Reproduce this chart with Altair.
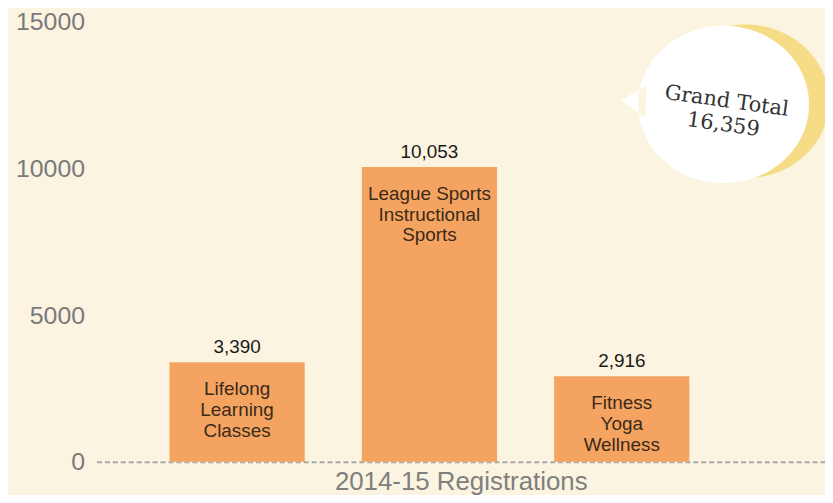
import altair as alt
import pandas as pd

categories = ["Lifelong Learning Classes", "League Sports Instructional Sports", "Fitness Yoga Wellness"]
values = [3390, 10053, 2916]
value_labels = ["3,390", "10,053", "2,916"]
inner_labels = [["Lifelong", "Learning", "Classes"],
                ["League Sports", "Instructional", "Sports"],
                ["Fitness", "Yoga", "Wellness"]]
y_ticks = [0, 5000, 10000, 15000]
bubble_lines = ["Grand Total", "16,359"]

df = pd.DataFrame({
    "cat": categories,
    "value": values,
    "vlabel": value_labels,
    "inner": inner_labels,
})

FONT = "Liberation Sans"
BG = "#FAF4E1"
BAR = "#F4A460"

xenc = alt.X("cat:N", sort=categories,
             scale=alt.Scale(paddingInner=0.297, paddingOuter=0.5425, align=0.35),
             axis=alt.Axis(title="2014-15 Registrations", labels=False, ticks=False,
                           domain=True, domainDash=[5, 3], domainColor="#A8A8A8",
                           domainWidth=2, titleFont=FONT, titleFontSize=26,
                           titleFontWeight="normal", titleColor="#7F7F7F",
                           titlePadding=7))
yenc = alt.Y("value:Q", scale=alt.Scale(domain=[0, 15000], nice=False),
             axis=alt.Axis(title=None, values=y_ticks, format="d", grid=False,
                           ticks=False, domain=False, labelFont=FONT,
                           labelFontSize=25, labelColor="#7A7A7A", labelPadding=12))

base = alt.Chart(df)
bars = base.mark_bar(color=BAR).encode(x=xenc, y=yenc)
vlab = base.mark_text(font=FONT, fontSize=19, color="#1a1a1a", baseline="bottom", dy=-5).encode(
    x=alt.X("cat:N", sort=categories), y="value:Q", text="vlabel:N")
ilab = base.mark_text(font=FONT, fontSize=19, color="#3a2a1a", baseline="top", dy=18,
                      lineHeight=21).encode(
    x=alt.X("cat:N", sort=categories), y="value:Q", text="inner")

ellipse = ("M -1 0 A 1 0.92 0 1 0 1 0 A 1 0.92 0 1 0 -1 0 Z")
bubble_shape = ellipse + " M -1.2 -0.05 L -0.9 -0.22 L -0.92 0.15 Z"

bdf = pd.DataFrame({"k": [0]})
yellow = alt.Chart(bdf).mark_point(shape=ellipse, filled=True, fill="#F7DC87",
                                   opacity=1, strokeWidth=0, size=168 ** 2).encode(
    x=alt.value(653), y=alt.value(80))
white = alt.Chart(bdf).mark_point(shape=bubble_shape, filled=True, fill="#FFFFFF",
                                  opacity=1, strokeWidth=0, size=172 ** 2).encode(
    x=alt.value(631), y=alt.value(83))
btext = alt.Chart(pd.DataFrame({"t": [bubble_lines]})).mark_text(
    font="DejaVu Serif", fontSize=21, color="#333333", angle=8, lineHeight=24,
    align="center", baseline="middle").encode(
    x=alt.value(634), y=alt.value(80), text="t")

chart = alt.layer(bars, vlab, ilab, yellow, white, btext).properties(
    width=733, height=442.5, background=BG,
    padding={"left": 89, "top": 12.5, "right": 0, "bottom": 32},
    autosize=alt.AutoSizeParams(type="none"),
).configure_view(stroke=None)

chart.save("out.html", embed_options={"renderer": "svg", "actions": False})
